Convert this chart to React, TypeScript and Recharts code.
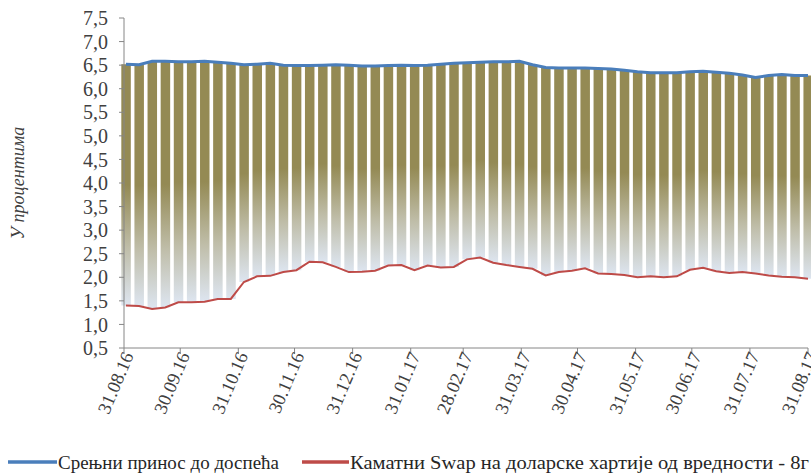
import React from 'react';
import { ComposedChart, Bar, Line, XAxis, YAxis, Legend } from 'recharts';

// day offsets from 31.08.16 (weekly observations)
const weekDays = [1, 8, 15, 22, 29, 36, 43, 50, 57, 64, 71, 78, 85, 92, 99, 106, 113, 120, 127, 134, 141, 148, 155, 162, 169, 176, 183, 190, 197, 204, 211, 218, 225, 232, 239, 246, 253, 260, 267, 274, 281, 288, 295, 302, 309, 316, 323, 330, 337, 344, 351, 358, 365];

const yieldValues = [6.52, 6.51, 6.58, 6.58, 6.57, 6.57, 6.58, 6.56, 6.54, 6.51, 6.52, 6.54, 6.50, 6.49, 6.49, 6.50, 6.51, 6.50, 6.48, 6.48, 6.49, 6.50, 6.49, 6.50, 6.52, 6.54, 6.55, 6.56, 6.57, 6.57, 6.58, 6.51, 6.45, 6.44, 6.44, 6.44, 6.43, 6.42, 6.39, 6.36, 6.34, 6.34, 6.34, 6.36, 6.37, 6.35, 6.33, 6.29, 6.24, 6.28, 6.30, 6.28, 6.28];

const swapValues = [1.40, 1.39, 1.33, 1.36, 1.47, 1.47, 1.48, 1.54, 1.54, 1.90, 2.02, 2.03, 2.11, 2.15, 2.33, 2.32, 2.22, 2.11, 2.12, 2.14, 2.25, 2.26, 2.15, 2.25, 2.21, 2.22, 2.38, 2.42, 2.31, 2.26, 2.22, 2.18, 2.04, 2.11, 2.14, 2.19, 2.08, 2.07, 2.05, 2.00, 2.02, 2.00, 2.02, 2.16, 2.20, 2.13, 2.09, 2.11, 2.08, 2.04, 2.01, 2.00, 1.97];

const tickDays = [0, 30, 61, 91, 122, 153, 181, 212, 242, 273, 303, 334, 365];
const tickLabels = ['31.08.16', '30.09.16', '31.10.16', '30.11.16', '31.12.16', '31.01.17', '28.02.17', '31.03.17', '30.04.17', '31.05.17', '30.06.17', '31.07.17', '31.08.17'];

const yTicks = [0.5, 1, 1.5, 2, 2.5, 3, 3.5, 4, 4.5, 5, 5.5, 6, 6.5, 7, 7.5];

const seriesNames = ['Срењни принос до доспећа', 'Каматни Swap на доларске хартије од вредности - 8г'];

const data = weekDays.map((d, i) => ({
  day: d,
  ytm: yieldValues[i],
  swap: swapValues[i],
  range: [swapValues[i], yieldValues[i]],
}));

const FONT = '"Liberation Serif", "Times New Roman", serif';
const BLUE = '#4A7EBB';
const RED = '#BE4B48';
const AXIS = '#868686';

const XTick = (props: any) => {
  const { x, y, payload } = props;
  const i = tickDays.indexOf(payload.value);
  return (
    <g transform={`translate(${x + 4},${y - 3})`}>
      <text transform="rotate(-67)" textAnchor="end" dy="0.35em" fontSize={18.5} fill="#404040" fontFamily={FONT}>
        {tickLabels[i]}
      </text>
    </g>
  );
};

const LegendContent = () => (
  <svg width={811} height={27} style={{ display: 'block' }}>
    <line x1={8} x2={57} y1={14} y2={14} stroke={BLUE} strokeWidth={3.5} />
    <text x={58} y={20.5} fontSize={19} fontFamily={FONT} fill="#262626" textLength={221} lengthAdjust="spacingAndGlyphs">
      {seriesNames[0]}
    </text>
    <line x1={302} x2={349} y1={14} y2={14} stroke={RED} strokeWidth={3.5} />
    <text x={350} y={20.5} fontSize={19} fontFamily={FONT} fill="#262626" textLength={459} lengthAdjust="spacingAndGlyphs">
      {seriesNames[1]}
    </text>
  </svg>
);

export default function App() {
  return (
    <div style={{ position: 'absolute', left: 0, top: 0, width: 811, height: 475, background: '#fff', overflow: 'hidden' }}>
      <ComposedChart width={811} height={475} data={data} margin={{ top: 18, right: 3, left: 0, bottom: 0 }}>
        <defs>
          <linearGradient id="barGrad" x1="0" y1="0" x2="0" y2="1">
            <stop offset="0%" stopColor="#948A54" />
            <stop offset="50%" stopColor="#948A54" />
            <stop offset="76%" stopColor="#BFBDA8" />
            <stop offset="100%" stopColor="#DDE5F0" />
          </linearGradient>
        </defs>
        <XAxis
          dataKey="day"
          type="number"
          domain={[0, 365]}
          ticks={tickDays}
          interval={0}
          height={100}
          tick={<XTick />}
          tickLine={{ stroke: AXIS }}
          axisLine={{ stroke: AXIS }}
          tickSize={6}
          tickMargin={2}
        />
        <YAxis
          type="number"
          domain={[0.5, 7.5]}
          ticks={yTicks}
          interval={0}
          width={124}
          tickFormatter={(v: number) => v.toFixed(1).replace('.', ',')}
          tick={{ fontSize: 20, fill: '#404040', fontFamily: FONT }}
          tickLine={{ stroke: AXIS }}
          axisLine={{ stroke: AXIS }}
          tickSize={5}
          tickMargin={11}
          label={{
            value: 'У процентима',
            angle: -90,
            position: 'insideLeft',
            offset: 18,
            style: { textAnchor: 'middle', fontSize: 18, fontStyle: 'italic', fill: '#404040', fontFamily: FONT },
          }}
        />
        <Bar dataKey="range" fill="url(#barGrad)" barSize={9.5} isAnimationActive={false} legendType="none" />
        <Line type="linear" dataKey="ytm" stroke={BLUE} strokeWidth={3} dot={false} isAnimationActive={false} name={seriesNames[0]} />
        <Line type="linear" dataKey="swap" stroke={RED} strokeWidth={2} dot={false} isAnimationActive={false} name={seriesNames[1]} />
        <Legend
          verticalAlign="bottom"
          content={<LegendContent />}
          wrapperStyle={{ position: 'absolute', left: 0, top: 448, width: 811, height: 27 }}
        />
      </ComposedChart>
    </div>
  );
}
